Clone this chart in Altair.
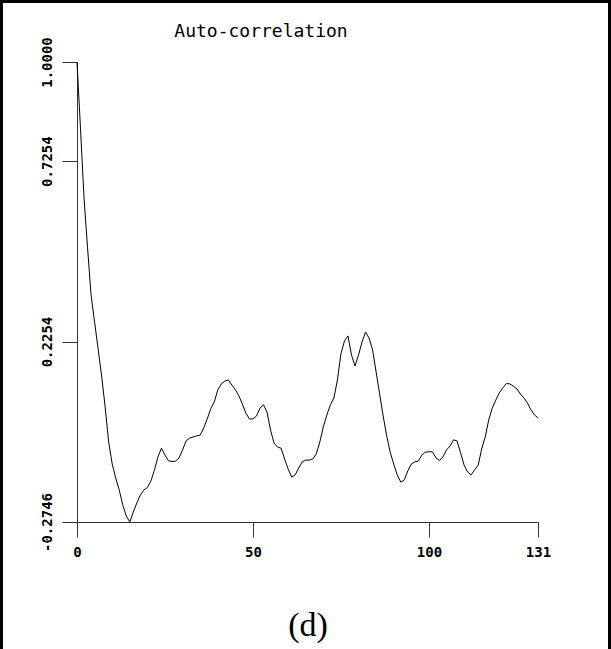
import altair as alt
import pandas as pd

lags = list(range(132))
acf = [
    1.000, 0.814, 0.623, 0.485, 0.354, 0.279, 0.205, 0.130, 0.044, -0.053,
    -0.114, -0.153, -0.186, -0.227, -0.258, -0.2746, -0.247, -0.222, -0.200, -0.186,
    -0.179, -0.161, -0.131, -0.094, -0.070, -0.089, -0.105, -0.107, -0.106, -0.097,
    -0.075, -0.050, -0.042, -0.039, -0.036, -0.034, -0.014, 0.011, 0.039, 0.058,
    0.091, 0.108, 0.116, 0.119, 0.105, 0.092, 0.075, 0.052, 0.027, 0.011,
    0.011, 0.019, 0.041, 0.050, 0.030, -0.020, -0.056, -0.067, -0.070, -0.100,
    -0.128, -0.150, -0.144, -0.125, -0.108, -0.103, -0.103, -0.100, -0.086, -0.053,
    -0.011, 0.022, 0.050, 0.069, 0.119, 0.191, 0.227, 0.241, 0.188, 0.158,
    0.188, 0.224, 0.252, 0.235, 0.202, 0.141, 0.080, 0.019, -0.036, -0.081,
    -0.114, -0.144, -0.164, -0.158, -0.133, -0.114, -0.108, -0.106, -0.089, -0.081,
    -0.080, -0.080, -0.097, -0.104, -0.094, -0.075, -0.064, -0.047, -0.050, -0.083,
    -0.117, -0.136, -0.144, -0.130, -0.117, -0.072, -0.039, 0.008, 0.041, 0.063,
    0.083, 0.097, 0.109, 0.108, 0.102, 0.094, 0.080, 0.069, 0.055, 0.036,
    0.022, 0.014,
]
y_ticks = [1.0, 0.7254, 0.2254, -0.2746]
x_ticks = [0, 50, 100, 131]
title_text = "Auto-correlation"
caption = "(d)"

df = pd.DataFrame({"lag": lags, "acf": acf})
mono = "DejaVu Sans Mono"
axis_col = "#333333"

line = alt.Chart(df).mark_line(color="black", strokeWidth=1, clip=False).encode(
    x=alt.X(
        "lag:Q",
        scale=alt.Scale(domain=[0, 131], nice=False, zero=False),
        axis=alt.Axis(
            values=x_ticks, title=caption, grid=False, tickSize=15,
            domainColor=axis_col, tickColor=axis_col, domainWidth=1, tickWidth=1,
            labelFont=mono, labelFontSize=14, labelFontWeight="bold",
            labelColor="black", labelPadding=8,
            labelAngle=0, labelFlush=False, labelOverlap=False,
            titleFont="Liberation Serif", titleFontSize=34, titleFontWeight="normal",
            titleColor="black", titlePadding=49,
        ),
    ),
    y=alt.Y(
        "acf:Q",
        scale=alt.Scale(domain=[-0.2746, 1.0], nice=False, zero=False),
        axis=alt.Axis(
            values=y_ticks, title="", grid=False, tickSize=15,
            domainColor=axis_col, tickColor=axis_col, domainWidth=1, tickWidth=1,
            labelAngle=270, labelAlign="center", labelBaseline="middle",
            labelPadding=15, labelFont=mono, labelFontSize=14, labelFontWeight="bold",
            labelColor="black", labelFlush=False, labelOverlap=False,
            labelExpr="replace(format(datum.value, '.4f'), '\u2212', '-')",
        ),
    ),
)

frame = alt.Chart(alt.Data(values=[{}])).mark_rect(
    fillOpacity=0, stroke="black", strokeWidth=3, clip=False
).encode(
    x=alt.value(-75.5), x2=alt.value(532.5), y=alt.value(-60.5), y2=alt.value(620)
)

title = alt.Chart(alt.Data(values=[{"t": title_text}])).mark_text(
    font=mono, fontSize=18, align="center", baseline="alphabetic", color="black",
    clip=False,
).encode(
    text="t:N", x=alt.value(261 - 77), y=alt.value(37 - 62)
)

chart = alt.layer(frame, line, title).properties(
    width=461,
    height=460,
    padding={"left": 77, "top": 62, "right": 73, "bottom": 127},
    autosize=alt.AutoSizeParams(type="none"),
    background="white",
).configure_view(stroke=None)

chart.save("out.html", embed_options={"renderer": "svg", "actions": False})
